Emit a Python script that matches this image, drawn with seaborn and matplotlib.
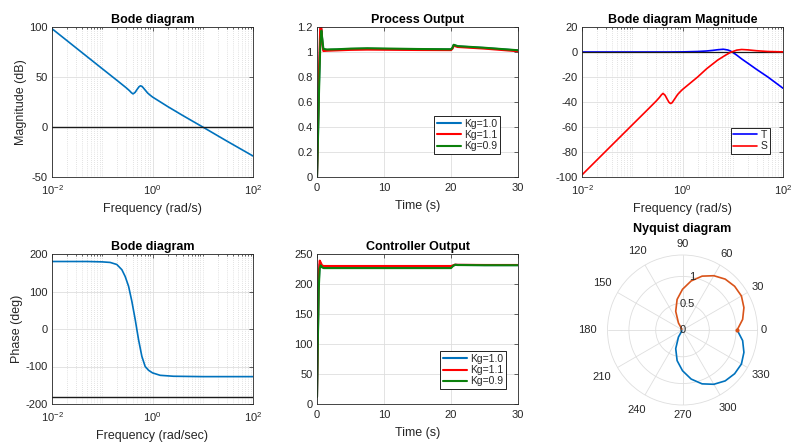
import matplotlib
matplotlib.use("Agg")
import numpy as np
import pandas as pd
import matplotlib.pyplot as plt
import seaborn as sns
from matplotlib.ticker import FixedLocator, NullFormatter

# ---------------- data ----------------
# open-loop magnitude (top-left)
freq_L = [0.01, 0.03, 0.1, 0.2, 0.3, 0.35, 0.38, 0.41, 0.45, 0.5, 0.54, 0.578, 0.62, 0.7,
          0.8, 0.9, 1.0, 2, 4, 10, 30, 100]
mag_L = [98.3, 79.2, 58.3, 46.3, 39.2, 36.2, 34.3, 33.1, 34.6, 38.0, 40.3, 41.2, 40.6, 37.5,
         34.0, 31.8, 30.0, 20.5, 11.5, 0.0, -14.0, -29.0]

# open-loop phase (bottom-left)
freq_P = [0.01, 0.05, 0.1, 0.144, 0.195, 0.246, 0.286, 0.334, 0.388, 0.453, 0.527, 0.614,
          0.715, 0.833, 1.0, 1.42, 2.61, 10, 100]
phase_L = [180, 180, 179, 177.5, 172, 158, 140, 114, 74, 25, -28, -73,
           -100, -110, -117, -123.5, -126, -127, -127]

# complementary sensitivity T and sensitivity S (top-right)
freq_T = [0.01, 0.1, 0.5, 1, 2, 3, 4, 5, 6.5, 8, 9, 10, 12, 15, 20, 30, 50, 100]
mag_T = [0, 0, 0, 0.1, 0.4, 0.8, 1.3, 1.8, 2.2, 1.6, 0.8, -0.3, -2.5, -5.5, -9, -14, -20, -29]
freq_S = [0.01, 0.03, 0.1, 0.2, 0.3, 0.35, 0.38, 0.41, 0.45, 0.5, 0.54, 0.578, 0.62, 0.7,
          0.8, 0.9, 1.0, 2, 3, 5, 7, 9, 12, 15, 20, 30, 50, 100]
mag_S = [-98.3, -79.2, -58.3, -46.3, -39.2, -36.2, -34.3, -33.1, -34.6, -38.0, -40.3, -41.2,
         -40.6, -37.5, -34.0, -31.8, -30.0, -20.0, -13.5, -6.5, -2.8, -0.3, 1.5, 2.0, 1.7,
         1.0, 0.4, 0.1]

# process output (top-middle)
t_proc = [0, 0.1, 0.3, 0.5, 0.65, 0.8, 0.95, 1.5, 2, 3, 5, 7.5, 10, 15, 20, 20.2, 20.4, 21, 25, 30]
y_kg10 = [0, 0.22, 0.75, 1.14, 1.18, 1.08, 1.016, 1.016, 1.017, 1.019, 1.024, 1.026, 1.024,
          1.021, 1.02, 1.03, 1.055, 1.045, 1.032, 1.012]
y_kg11 = [0, 0.25, 0.85, 1.24, 1.20, 1.06, 1.008, 1.010, 1.011, 1.013, 1.017, 1.019, 1.018,
          1.016, 1.015, 1.025, 1.05, 1.04, 1.027, 1.006]
y_kg09 = [0, 0.20, 0.68, 1.08, 1.17, 1.10, 1.025, 1.020, 1.021, 1.022, 1.027, 1.030, 1.028,
          1.024, 1.022, 1.032, 1.058, 1.047, 1.034, 1.014]

# controller output (bottom-middle)
t_ctrl = [0, 0.1, 0.25, 0.4, 0.55, 0.75, 1.0, 1.5, 3, 10, 20, 20.3, 20.6, 21, 25, 30]
u_kg10 = [12, 90, 200, 233, 231, 228, 227.5, 228, 228, 228, 228, 230.5, 232, 231.8, 231.5, 231.5]
u_kg11 = [12, 95, 215, 239, 236, 231, 230, 230, 230, 230, 230, 231, 232.2, 232, 231.7, 231.7]
u_kg09 = [12, 85, 190, 226, 231, 228, 226.5, 226.5, 226.5, 226.5, 226.5, 230, 232, 231.6, 231.3, 231.3]

kg_labels = ["Kg=1.0", "Kg=1.1", "Kg=0.9"]

# Nyquist (polar) branch: angle in degrees and radius
nyq_theta_deg = [0, 10, 20, 30, 40, 50, 60, 70, 80, 90, 100, 110, 120, 126]
nyq_r = [1.02, 1.14, 1.22, 1.27, 1.27, 1.24, 1.17, 1.07, 0.93, 0.76, 0.58, 0.37, 0.15, 0.02]
r_ticks = [0, 0.5, 1]
r_ticklabels = ['0', '0.5', '1']
theta_ticks = [0, 30, 60, 90, 120, 150, 180, 210, 240, 270, 300, 330]
theta_ticklabels = ['0', '30', '60', '90', '120', '150', '180', '210', '240', '270', '300', '330']

log_ticks = [0.01, 1, 100]
log_ticklabels = ["$10^{-2}$", "$10^{0}$", "$10^{2}$"]

# ---------------- style ----------------
sns.set_theme(style="white")
plt.rcParams['font.family'] = ['Liberation Sans', 'DejaVu Sans']
plt.rcParams['mathtext.default'] = 'regular'
plt.rcParams['axes.unicode_minus'] = False

DARK = '#262626'
GRID = '#dedede'
MINOR = '#c8c8c8'
MBLUE = '#0072bd'
RED = '#ff0000'
GREEN = '#0b800b'
ORANGE = '#d95319'
TICK_FS = 8
LAB_FS = 9

W, H = 794, 447
fig = plt.figure(figsize=(W / 100, H / 100), dpi=100)


def pos(l, t, r, b):
    return [l / W, 1 - b / H, (r - l) / W, (b - t) / H]


minor_log = [k * 10.0 ** d for d in range(-2, 2) for k in range(1, 10)]
minor_log = [m for m in minor_log if m not in (0.01, 1.0)]


def style(ax, log=False):
    for s in ax.spines.values():
        s.set_color(DARK)
        s.set_linewidth(0.6)
    ax.tick_params(which='both', direction='in', top=True, right=True, colors=DARK,
                   labelsize=TICK_FS, width=0.5)
    ax.tick_params(axis='x', which='both', pad=4.5)
    ax.tick_params(axis='y', which='both', pad=3)
    ax.tick_params(which='major', length=3)
    ax.tick_params(which='minor', length=1.6)
    if log:
        ax.set_xscale('log')
        ax.set_xlim(0.01, 100)
        ax.xaxis.set_major_locator(FixedLocator(log_ticks))
        ax.set_xticklabels(log_ticklabels)
        ax.xaxis.set_minor_locator(FixedLocator(minor_log))
        ax.xaxis.set_minor_formatter(NullFormatter())
        ax.grid(True, which='minor', axis='x', color=MINOR, lw=0.5, ls=(0, (1, 2)))
    ax.grid(True, which='major', color=GRID, lw=0.6)
    ax.set_axisbelow(True)


def title(ax, txt):
    ax.set_title(txt, fontsize=9, fontweight='bold', color='black', pad=3)


def legend(ax, anchor):
    leg = ax.legend(loc='lower right', bbox_to_anchor=anchor, borderaxespad=0, fontsize=7.5,
                    frameon=True, fancybox=False, framealpha=1, edgecolor='black',
                    handlelength=2.3, handletextpad=0.3, borderpad=0.25, labelspacing=0.12)
    leg.get_frame().set_linewidth(0.6)


# ---- top-left: Bode magnitude ----
ax1 = fig.add_axes(pos(52, 27, 253, 177))
sns.lineplot(x=freq_L, y=mag_L, ax=ax1, color=MBLUE, lw=1.2, estimator=None)
ax1.axhline(0, color='#1a1a1a', lw=1.0)
style(ax1, log=True)
ax1.set_ylim(-50, 100)
ax1.set_yticks([-50, 0, 50, 100])
ax1.set_xlabel('Frequency (rad/s)', fontsize=LAB_FS, color=DARK, labelpad=4.5)
ax1.set_ylabel('Magnitude (dB)', fontsize=LAB_FS, color=DARK, labelpad=2)
title(ax1, 'Bode diagram')

# ---- top-middle: Process output ----
ax2 = fig.add_axes(pos(317, 27, 518, 177))
for yv, c, lab in zip([y_kg10, y_kg11, y_kg09], [MBLUE, RED, GREEN], kg_labels):
    sns.lineplot(x=t_proc, y=yv, ax=ax2, color=c, lw=1.5, label=lab, estimator=None, sort=False)
style(ax2)
ax2.set_xlim(0, 30)
ax2.set_xticks([0, 10, 20, 30])
ax2.set_ylim(0, 1.2)
ax2.set_yticks([0, 0.2, 0.4, 0.6, 0.8, 1.0, 1.2])
ax2.set_yticklabels(['0', '0.2', '0.4', '0.6', '0.8', '1', '1.2'])
ax2.set_xlabel('Time (s)', fontsize=LAB_FS, color=DARK, labelpad=5)
title(ax2, 'Process Output')
legend(ax2, ((500 - 317) / 201, (177 - 154) / 150))

# ---- top-right: T and S ----
ax3 = fig.add_axes(pos(582, 27, 783, 177))
sns.lineplot(x=freq_T, y=mag_T, ax=ax3, color='#0000ff', lw=1.2, label='T', estimator=None)
ax3.axhline(0, color='#1a1a1a', lw=0.9)
sns.lineplot(x=freq_S, y=mag_S, ax=ax3, color=RED, lw=1.2, label='S', estimator=None)
style(ax3, log=True)
ax3.set_ylim(-100, 20)
ax3.set_yticks(list(range(-100, 21, 20)))
ax3.set_xlabel('Frequency (rad/s)', fontsize=LAB_FS, color=DARK, labelpad=4.5)
title(ax3, 'Bode diagram Magnitude')
legend(ax3, ((770 - 582) / 201, (177 - 154) / 150))

# ---- bottom-left: Bode phase ----
ax4 = fig.add_axes(pos(52, 254, 253, 404))
sns.lineplot(x=freq_P, y=phase_L, ax=ax4, color=MBLUE, lw=1.2, estimator=None)
ax4.axhline(-180, color='#1a1a1a', lw=1.0)
style(ax4, log=True)
ax4.set_ylim(-200, 200)
ax4.set_yticks([-200, -100, 0, 100, 200])
ax4.set_xlabel('Frequency (rad/sec)', fontsize=LAB_FS, color=DARK, labelpad=4.5)
ax4.set_ylabel('Phase (deg)', fontsize=LAB_FS, color=DARK, labelpad=2)
title(ax4, 'Bode diagram')

# ---- bottom-middle: Controller output ----
ax5 = fig.add_axes(pos(317, 254, 518, 404))
for uv, c, lab in zip([u_kg10, u_kg11, u_kg09], [MBLUE, RED, GREEN], kg_labels):
    sns.lineplot(x=t_ctrl, y=uv, ax=ax5, color=c, lw=1.5, label=lab, estimator=None, sort=False)
style(ax5)
ax5.set_xlim(0, 30)
ax5.set_xticks([0, 10, 20, 30])
ax5.set_ylim(0, 250)
ax5.set_yticks([0, 50, 100, 150, 200, 250])
ax5.set_xlabel('Time (s)', fontsize=LAB_FS, color=DARK, labelpad=5)
title(ax5, 'Controller Output')
legend(ax5, ((506 - 317) / 201, (404 - 389) / 150))

# ---- bottom-right: Nyquist (polar) ----
RMAX = 1.4
axp = fig.add_axes(pos(607.5, 255, 757.5, 405), projection='polar')
th = np.deg2rad(nyq_theta_deg)
sns.lineplot(x=-th, y=nyq_r, ax=axp, color=MBLUE, lw=1.2, estimator=None, sort=False)
sns.lineplot(x=th, y=nyq_r, ax=axp, color=ORANGE, lw=1.2, estimator=None, sort=False)
sns.scatterplot(x=th[:1], y=nyq_r[:1], ax=axp, color=ORANGE, s=9, linewidth=0, zorder=4)
axp.set_rlim(0, RMAX)
axp.set_rticks(r_ticks)
axp.set_yticklabels([])
for rv, rl in zip(r_ticks, r_ticklabels):
    axp.text(np.deg2rad(80), rv, rl, ha='center', va='center', fontsize=TICK_FS, color=DARK)
axp.set_thetagrids(theta_ticks, labels=[''] * len(theta_ticks))
# angle labels, centred at a distance (in px of the 75 px radius) matching the reference
label_dist_px = [81, 87, 88, 86, 91, 93, 95, 93.5, 92, 85, 90, 90]
for a, lab, d in zip(theta_ticks, theta_ticklabels, label_dist_px):
    axp.text(np.deg2rad(a), RMAX * d / 75.0, lab, ha='center', va='center',
             fontsize=TICK_FS, color=DARK, clip_on=False)
axp.grid(True, color=GRID, lw=0.6)
axp.spines['polar'].set_color(GRID)
axp.spines['polar'].set_linewidth(0.6)
axp.tick_params(axis='both', length=0)
axp.set_xlabel('')
axp.set_ylabel('')
axp.set_title('Nyquist diagram', fontsize=9, fontweight='bold', color='black',
              y=1 + (255 - 232) / 150, pad=0)

fig.savefig('out.png', dpi=100)
